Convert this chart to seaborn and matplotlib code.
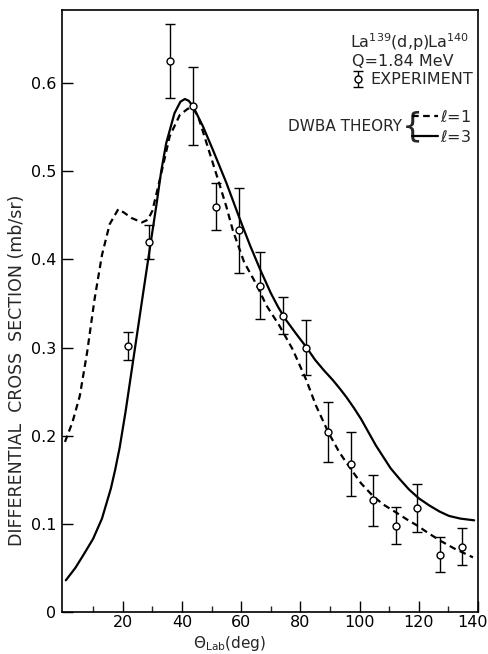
import numpy as np
import pandas as pd
import matplotlib
matplotlib.use("Agg")
import matplotlib.pyplot as plt
import matplotlib.transforms as mtransforms
import seaborn as sns

# ---- data ----
theta_l3 = [0.8, 4.0, 6.6, 10.0, 13.0, 16.0, 17.5, 19.0, 21.0, 24.0, 27.0, 29.1, 31.4, 33.0,
            34.7, 37.5, 39.5, 41.0, 42.3, 43.7, 47.1, 50.5, 55.0, 59.2, 63.0, 66.5, 70.0,
            72.5, 75.0, 78.5, 81.9, 85.0, 88.0, 91.0, 93.2, 95.5, 98.0, 100.5, 103.0, 105.5,
            108.0, 110.5, 113.5, 116.7, 120.0, 123.5, 127.0, 130.2, 134.0, 138.7]
sigma_l3 = [0.036, 0.050, 0.064, 0.083, 0.106, 0.140, 0.162, 0.187, 0.228, 0.296, 0.364,
            0.411, 0.462, 0.500, 0.532, 0.566, 0.579, 0.582, 0.580, 0.574, 0.551, 0.524,
            0.487, 0.449, 0.416, 0.388, 0.362, 0.346, 0.332, 0.316, 0.301, 0.286, 0.274,
            0.263, 0.254, 0.244, 0.232, 0.219, 0.204, 0.189, 0.176, 0.163, 0.151, 0.139,
            0.129, 0.121, 0.114, 0.109, 0.106, 0.104]

theta_l1 = [0.5, 3.0, 5.5, 8.0, 10.5, 13.0, 15.6, 18.5, 20.5, 23.0, 26.5, 28.5, 30.0, 32.5,
            35.9, 39.3, 42.0, 43.7, 45.5, 47.1, 51.6, 55.0, 57.2, 61.0, 65.1, 68.5, 72.9,
            77.4, 81.9, 85.3, 89.5, 93.2, 97.1, 100.5, 104.4, 108.0, 112.3, 116.0, 119.5,
            123.0, 127.2, 132.0, 138.3]
sigma_l1 = [0.193, 0.215, 0.245, 0.295, 0.355, 0.405, 0.440, 0.457, 0.453, 0.447, 0.442,
            0.445, 0.455, 0.490, 0.540, 0.564, 0.571, 0.572, 0.562, 0.545, 0.497, 0.460,
            0.433, 0.397, 0.372, 0.348, 0.325, 0.298, 0.264, 0.234, 0.2035, 0.181, 0.162,
            0.146, 0.132, 0.122, 0.113, 0.105, 0.098, 0.090, 0.081, 0.072, 0.062]

exp_theta = [21.8, 28.9, 36.1, 43.7, 51.4, 59.2, 66.5, 74.3, 81.9, 89.5, 97.1, 104.4,
             112.3, 119.5, 127.2, 134.5]
exp_sigma = [0.302, 0.420, 0.625, 0.574, 0.460, 0.433, 0.370, 0.336, 0.300, 0.204, 0.168,
             0.127, 0.098, 0.118, 0.065, 0.074]
exp_err = [0.016, 0.019, 0.042, 0.044, 0.027, 0.048, 0.038, 0.021, 0.031, 0.034, 0.036,
           0.029, 0.021, 0.027, 0.020, 0.021]

x_ticks = [20, 40, 60, 80, 100, 120, 140]
x_minor = [10, 30, 50, 70, 90, 110, 130]
y_ticks = [0, 0.1, 0.2, 0.3, 0.4, 0.5, 0.6]
y_labels = ["0", "0.1", "0.2", "0.3", "0.4", "0.5", "0.6"]

# ---- plotting ----
sns.set_style("ticks")
plt.rcParams["font.family"] = ["DejaVu Sans"]

fig = plt.figure(figsize=(4.89, 6.54), dpi=100)
ax = fig.add_axes([62 / 489, 42 / 654, 416 / 489, 602 / 654])

df1 = pd.DataFrame({"theta": theta_l1, "sigma": sigma_l1})
df3 = pd.DataFrame({"theta": theta_l3, "sigma": sigma_l3})

sns.lineplot(data=df1, x="theta", y="sigma", ax=ax, color="black", lw=1.6,
             linestyle=(0, (3, 2)), sort=False, label=r"$\ell$=1")
sns.lineplot(data=df3, x="theta", y="sigma", ax=ax, color="black", lw=1.6,
             sort=False, label=r"$\ell$=3")
line_handles = ax.get_lines()[:2]

eb = ax.errorbar(exp_theta, exp_sigma, yerr=exp_err, fmt="o", ms=5, mfc="white",
                 mec="black", mew=1.0, ecolor="black", elinewidth=1.0, capsize=3.5,
                 capthick=1.0, zorder=5)

ax.set_xlim(-0.5, 140)
ax.set_ylim(0, 0.683)
ax.set_xticks(x_ticks)
ax.set_xticks(x_minor, minor=True)
ax.set_yticks(y_ticks)
ax.set_yticklabels(y_labels)
ax.tick_params(axis="both", which="major", direction="in", length=8, width=1,
               labelsize=11.5, colors="black")
ax.tick_params(axis="x", which="major", pad=2)
ax.tick_params(axis="y", which="major", pad=4)
ax.tick_params(axis="x", which="minor", direction="in", length=4, width=1)
for s in ax.spines.values():
    s.set_color("black")
    s.set_linewidth(1.2)

ax.set_xlabel(r"$\Theta_{\mathrm{Lab}}$(deg)", fontsize=11)
ax.xaxis.set_label_coords(0.404, -0.037)
ax.set_ylabel("DIFFERENTIAL  CROSS  SECTION (mb/sr)", fontsize=12.5)
ax.yaxis.set_label_coords(-0.087, 0.402)

# annotation block
ax.text(0.692, 0.947, r"La$^{139}$(d,p)La$^{140}$", transform=ax.transAxes,
        fontsize=11.5, va="center", ha="left")
ax.text(0.697, 0.915, "Q=1.84 MeV", transform=ax.transAxes,
        fontsize=11.5, va="center", ha="left")

leg1 = ax.legend(handles=[eb], labels=["EXPERIMENT"], loc="center left",
                 bbox_to_anchor=(0.695, 0.884), frameon=False, handlelength=0.8,
                 handletextpad=0.4, borderpad=0, borderaxespad=0, fontsize=11.5)
ax.add_artist(leg1)

ax.text(0.818, 0.806, "DWBA THEORY", transform=ax.transAxes, fontsize=11,
        va="center", ha="right")
ax.text(0.816, 0.806, "{", transform=ax.transAxes, fontsize=24, va="center",
        ha="left")
ax.legend(handles=line_handles, labels=[r"$\ell$=1", r"$\ell$=3"], loc="center left",
          bbox_to_anchor=(0.842, 0.806), frameon=False, handlelength=1.6,
          handletextpad=0.15, labelspacing=0.25, borderpad=0, borderaxespad=0,
          fontsize=11.5)

# nudge the last x tick label so it stays inside the figure, as in the reference
last = ax.xaxis.get_major_ticks()[-1].label1
last.set_transform(last.get_transform() +
                   mtransforms.ScaledTranslation(-5 / 100, 0, fig.dpi_scale_trans))

fig.savefig("out.png", dpi=100)
